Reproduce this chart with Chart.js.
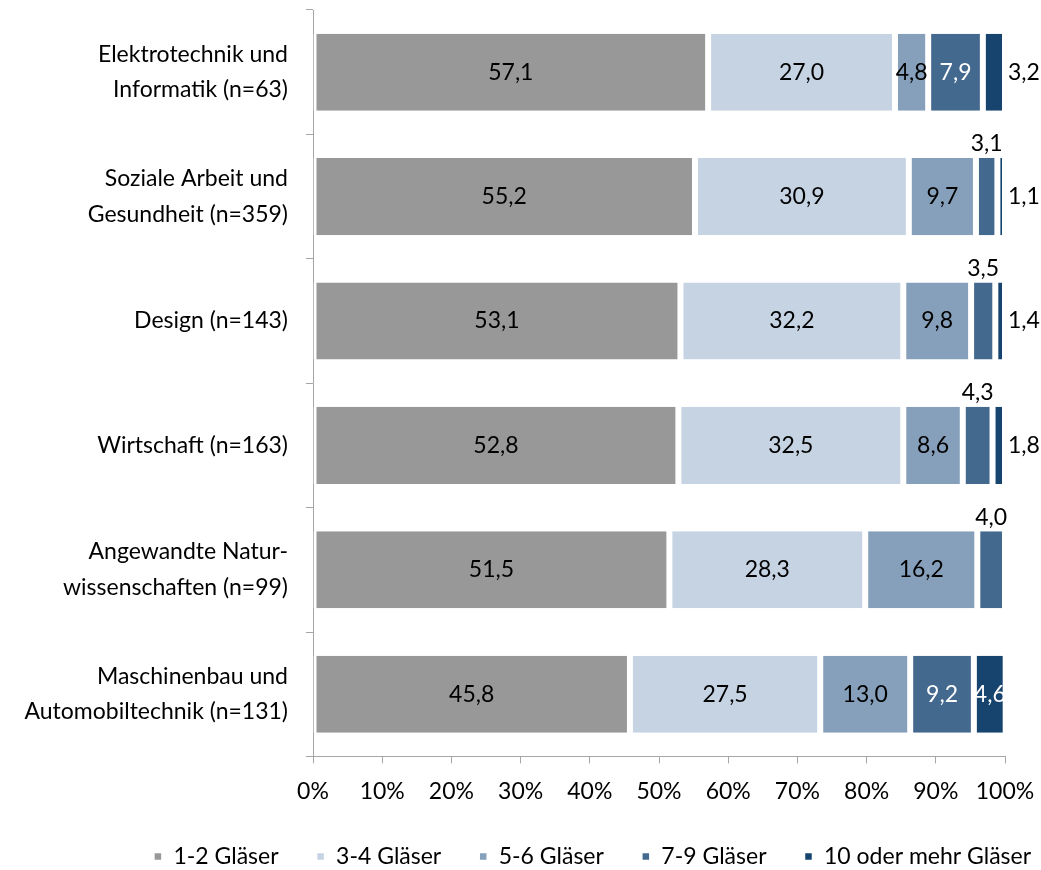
<!DOCTYPE html>
<html><head><meta charset="utf-8">
<script src="https://cdn.jsdelivr.net/npm/chart.js@4"></script>
<style>html,body{margin:0;padding:0;background:#fff}#wrap{width:1041px;height:870px}</style>
</head><body><div id="wrap"><canvas id="c"></canvas></div>
<script>
const categories = [
  ['Elektrotechnik und', 'Informatik (n=63)'],
  ['Soziale Arbeit und', 'Gesundheit (n=359)'],
  ['Design (n=143)'],
  ['Wirtschaft (n=163)'],
  ['Angewandte Natur-', 'wissenschaften (n=99)'],
  ['Maschinenbau und', 'Automobiltechnik (n=131)']
];
const seriesNames = ['1-2 Gläser', '3-4 Gläser', '5-6 Gläser', '7-9 Gläser', '10 oder mehr Gläser'];
const s12 = [57.1, 55.2, 53.1, 52.8, 51.5, 45.8];
const s34 = [27.0, 30.9, 32.2, 32.5, 28.3, 27.5];
const s56 = [4.8, 9.7, 9.8, 8.6, 16.2, 13.0];
const s79 = [7.9, 3.1, 3.5, 4.3, 4.0, 9.2];
const s10 = [3.2, 1.1, 1.4, 1.8, 0, 4.6];
const xTicks = [0, 10, 20, 30, 40, 50, 60, 70, 80, 90, 100];

const colors = ['#989898', '#c6d3e3', '#86a0bc', '#43698f', '#17446f'];
const FONT = 'Lato';
const FS = 23;

const labelPlugin = {
  id: 'valueLabels',
  afterDatasetsDraw(chart) {
    const ctx = chart.ctx;
    ctx.save();
    ctx.font = FS + 'px ' + FONT;
    chart.data.datasets.forEach((ds, di) => {
      const meta = chart.getDatasetMeta(di);
      meta.data.forEach((bar, i) => {
        const v = ds.data[i];
        if (!v) return;
        const txt = v.toFixed(1).replace('.', ',');
        const p = bar.getProps(['x', 'y', 'base', 'height'], true);
        let x = (p.x + p.base) / 2, y = p.y, align = 'center', color = '#000';
        if (di === 4 && v < 4) { x = p.x + 3; align = 'left'; }
        else if (di === 3 && v < 5) { y = p.y - p.height / 2 - 14; }
        else if (di >= 3) { color = '#fff'; }
        ctx.fillStyle = color;
        ctx.textAlign = align;
        ctx.textBaseline = 'middle';
        ctx.fillText(txt, x, y);
      });
    });
    ctx.restore();
  }
};

const legendShift = {
  id: 'legendShift',
  afterLayout(chart) {
    const lg = chart.legend;
    if (lg) { lg.left += 90; lg.right += 90; lg.top += 8; lg.bottom += 8; }
  }
};

new Chart(document.getElementById('c'), {
  type: 'bar',
  data: {
    labels: categories,
    datasets: [s12, s34, s56, s79, s10].map((d, k) => ({
      label: seriesNames[k],
      data: d,
      backgroundColor: colors[k],
      borderColor: '#ffffff',
      borderWidth: { left: 3, right: 3, top: 0, bottom: 0 },
      borderSkipped: false,
      barPercentage: 0.62,
      categoryPercentage: 1
    }))
  },
  options: {
    indexAxis: 'y',
    responsive: true,
    maintainAspectRatio: false,
    animation: false,
    devicePixelRatio: 1,
    layout: { padding: { top: 10, right: 36, left: 0, bottom: 0 } },
    scales: {
      x: {
        stacked: true, min: 0, max: 100,
        afterBuildTicks(scale) { scale.ticks = xTicks.map(v => ({ value: v })); },
        afterFit(scale) { scale.paddingLeft = 0; scale.paddingRight = 0; scale.height = scale.height - 20; },
        ticks: { callback: v => v + '%', color: '#000', font: { family: FONT, size: FS }, padding: 14, maxRotation: 0 },
        grid: { drawOnChartArea: false, tickLength: 7, color: '#a6a6a6' },
        border: { color: '#a6a6a6' }
      },
      y: {
        stacked: true,
        afterFit(scale) { scale.width = 313; scale.paddingTop = 0; scale.paddingBottom = 0; },
        ticks: { color: '#000', font: { family: FONT, size: FS, lineHeight: 1.55 }, padding: 18 },
        grid: { drawOnChartArea: false, tickLength: 7, color: '#a6a6a6' },
        border: { color: '#a6a6a6' }
      }
    },
    plugins: {
      legend: {
        position: 'bottom',
        labels: { boxWidth: 8, boxHeight: 8, padding: 38, color: '#000', font: { family: FONT, size: FS } }
      },
      tooltip: { enabled: false }
    }
  },
  plugins: [labelPlugin, legendShift]
});
</script>
</body></html>
